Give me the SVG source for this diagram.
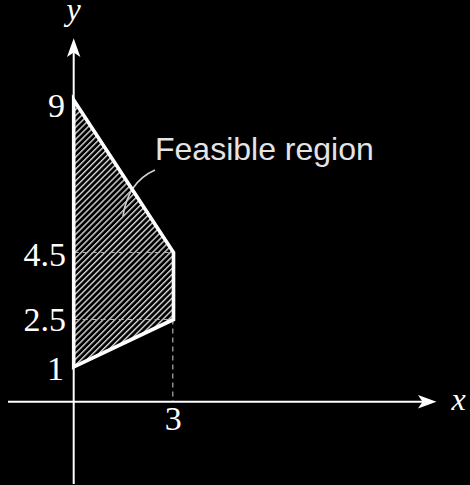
<svg xmlns="http://www.w3.org/2000/svg" width="470" height="485" viewBox="0 0 470 485">
  <style>
    .axis { stroke: #ffffff; stroke-width: 2; fill: none; }
    .head { fill: #ffffff; stroke: none; }
    .dash { stroke: #b0b0b0; stroke-width: 1.2; stroke-dasharray: 5 4; fill: none; }
    .num { font-family: "Liberation Serif", "Times New Roman", serif; font-size: 34px; fill: #ffffff; }
    .var { font-family: "Liberation Serif", "Times New Roman", serif; font-size: 32px; font-style: italic; fill: #ffffff; }
    .lbl { font-family: "Liberation Sans", Arial, sans-serif; font-size: 32px; fill: #e4e4e4; }
    .leader { stroke: #cfcfcf; stroke-width: 1.6; fill: none; }
  </style>
  <defs>
    <pattern id="hatch" patternUnits="userSpaceOnUse" width="4.2" height="4.2" patternTransform="rotate(45)">
      <rect x="0" y="0" width="1.4" height="4.2" fill="#d6d6d6"/>
    </pattern>
  </defs>
  <rect x="0" y="0" width="470" height="485" fill="#000000"/>

  <g id="region">
    <polygon points="73.7,100 173.5,252.5 173.5,319.5 73.7,367" fill="url(#hatch)" stroke="none"/>
  </g>

  <g id="connectors">
    <line class="dash" x1="73.7" y1="252.5" x2="173.5" y2="252.5"/>
    <line class="dash" x1="73.7" y1="319.5" x2="173.5" y2="319.5"/>
    <line class="dash" x1="172.8" y1="319.5" x2="172.8" y2="401"/>
    <line class="axis" x1="8" y1="401.7" x2="425" y2="401.7"/>
    <line class="axis" x1="73.7" y1="484" x2="73.7" y2="50"/>
    <path class="head" d="M436.5,401.7 L418,395 L422.5,401.7 L418,408.4 Z"/>
    <path class="head" d="M73.7,38.3 L67,57 L73.7,52.5 L80.4,57 Z"/>
    <path class="leader" d="M155,170 Q128,182 123,216"/>
  </g>

  <g id="region-outline">
    <polygon points="73.7,100 173.5,252.5 173.5,319.5 73.7,367" fill="none" stroke="#ffffff" stroke-width="3.6" stroke-linejoin="miter"/>
  </g>

  <g id="labels">
    <text class="var" x="73.5" y="20" text-anchor="middle">y</text>
    <text class="var" x="458.5" y="410" text-anchor="middle">x</text>
    <text class="num" x="65" y="117" text-anchor="end">9</text>
    <text class="num" x="66" y="266" text-anchor="end">4.5</text>
    <text class="num" x="66" y="331" text-anchor="end">2.5</text>
    <text class="num" x="64" y="380" text-anchor="end">1</text>
    <text class="num" x="173.3" y="430" text-anchor="middle">3</text>
    <text class="lbl" x="155" y="160">Feasible region</text>
  </g>
</svg>
